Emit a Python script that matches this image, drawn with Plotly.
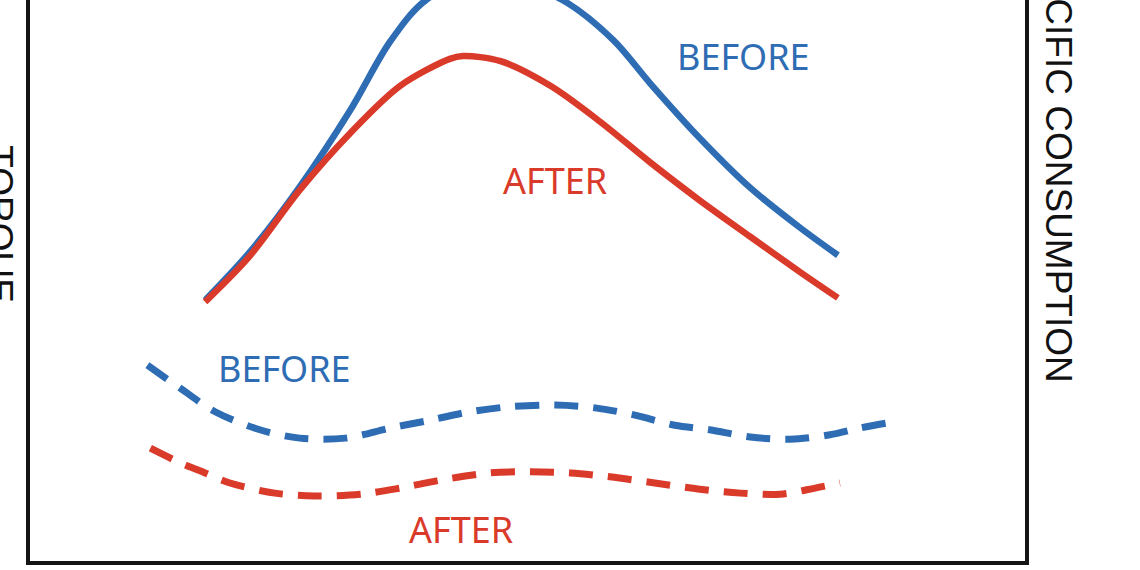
import plotly.graph_objects as go

# Engine speed (arbitrary units) and curves
torque_before_x = [17.6, 22.1, 27.1, 32.2, 36.2, 39.8, 46.2, 53.5, 58.6, 62.3, 67.3, 72.4, 77.4, 81.2]
torque_before_y = [46.5, 55.1, 66.7, 80.4, 92.6, 100.0, 104.8, 100.0, 92.9, 85.2, 75.4, 66.5, 59.4, 54.5]

torque_after_x = [17.6, 22.1, 27.1, 32.2, 37.2, 42.2, 43.5, 47.3, 52.3, 57.3, 62.3, 67.3, 72.4, 77.4, 81.2]
torque_after_y = [46.2, 54.4, 66.1, 76.3, 84.7, 89.5, 90.0, 89.1, 84.7, 78.3, 71.1, 64.3, 57.8, 51.5, 46.9]

sfc_before_x = [11.8, 15.1, 18.6, 23.1, 27.1, 31.7, 36.2, 40.2, 44.2, 48.2, 52.8, 56.8, 60.8, 64.8, 68.3, 72.4, 76.4, 80.4, 83.4, 86.1]
sfc_before_y = [34.9, 30.8, 26.6, 23.4, 21.9, 21.9, 23.7, 25.1, 26.6, 27.5, 27.8, 27.3, 26.0, 24.2, 23.4, 22.1, 21.7, 22.5, 23.7, 24.6]

sfc_after_x = [12.1, 15.1, 17.6, 20.1, 24.6, 28.6, 33.2, 37.2, 41.2, 46.2, 50.3, 54.3, 58.3, 62.8, 67.3, 71.4, 75.4, 78.9, 81.4]
sfc_after_y = [20.1, 17.5, 15.7, 13.9, 12.1, 11.6, 11.9, 13.0, 14.4, 15.7, 15.9, 15.7, 15.0, 13.9, 12.8, 12.1, 11.9, 13.0, 13.9]

labels = ["BEFORE", "AFTER", "BEFORE", "AFTER"]
label_x = [71.7, 52.8, 25.6, 43.3]
label_y = [89.9, 67.8, 34.4, 5.6]

BLUE = "#2e6cb4"
RED = "#da3a2a"
label_colors = [BLUE, RED, BLUE, RED]

fig = go.Figure()
fig.add_trace(go.Scatter(x=torque_before_x, y=torque_before_y, mode="lines",
                         line=dict(color=BLUE, width=6.5, shape="spline", smoothing=0.9)))
fig.add_trace(go.Scatter(x=torque_after_x, y=torque_after_y, mode="lines",
                         line=dict(color=RED, width=6.5, shape="spline", smoothing=0.9)))
fig.add_trace(go.Scatter(x=sfc_before_x, y=sfc_before_y, mode="lines", yaxis="y2",
                         line=dict(color=BLUE, width=7, shape="spline", smoothing=0.9,
                                   dash="24px,15px")))
fig.add_trace(go.Scatter(x=sfc_after_x, y=sfc_after_y, mode="lines", yaxis="y2",
                         line=dict(color=RED, width=7, shape="spline", smoothing=0.9,
                                   dash="24px,15px")))

for t, x, y, c in zip(labels, label_x, label_y, label_colors):
    fig.add_annotation(x=x, y=y, xref="x", yref="y", text=t, showarrow=False,
                       font=dict(family="Noto Sans", size=36, color=c))

fig.add_annotation(x=-0.031, y=0.6, xref="paper", yref="paper", text="TORQUE",
                   textangle=90, showarrow=False, xanchor="center", yanchor="middle",
                   font=dict(family="Liberation Sans", size=37, color="#111111"))
fig.add_annotation(x=1.034, y=0.727, xref="paper", yref="paper", text="SPECIFIC CONSUMPTION",
                   textangle=90, showarrow=False, xanchor="center", yanchor="middle",
                   font=dict(family="Liberation Sans", size=37, color="#111111"))

fig.update_layout(
    width=1140, height=570,
    margin=dict(l=30, r=115, t=0, b=9, autoexpand=False),
    paper_bgcolor="white", plot_bgcolor="white",
    showlegend=False,
    xaxis=dict(range=[0, 100], showline=True, linecolor="#151515", linewidth=4,
               showgrid=False, zeroline=False, showticklabels=False, ticks=""),
    yaxis=dict(range=[0, 100], showline=True, linecolor="#151515", linewidth=4,
               showgrid=False, zeroline=False, showticklabels=False, ticks=""),
    yaxis2=dict(range=[0, 100], overlaying="y", side="right", showline=True,
                linecolor="#151515", linewidth=4,
                showgrid=False, zeroline=False, showticklabels=False, ticks=""),
)

fig.write_html("out.html", config={"displayModeBar": False},
               post_script="document.body.style.margin='0';")
